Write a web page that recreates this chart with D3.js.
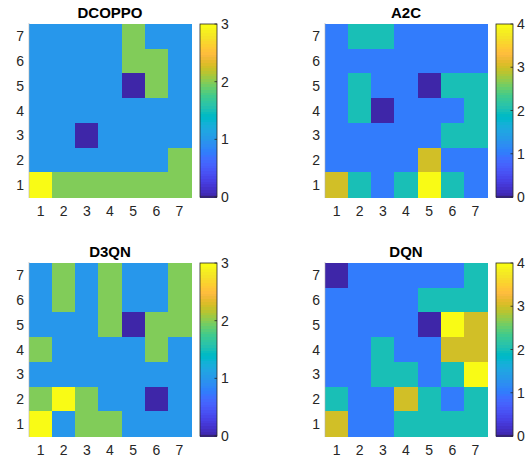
<!DOCTYPE html>
<html>
<head>
<meta charset="utf-8">
<script src="https://cdn.jsdelivr.net/npm/d3@7"></script>
<style>
  body { margin: 0; background: #fff; }
  svg { display: block; }
  text { font-family: "Liberation Sans", Arial, sans-serif; }
</style>
</head>
<body>
<svg id="chart" width="530" height="460"></svg>
<script>
// grid values, rows listed from y=7 (top) down to y=1 (bottom), columns x=1..7
var cells = [1, 2, 3, 4, 5, 6, 7];
var dcoppo = [
  [1, 1, 1, 1, 2, 1, 1],
  [1, 1, 1, 1, 2, 2, 1],
  [1, 1, 1, 1, 0, 2, 1],
  [1, 1, 1, 1, 1, 1, 1],
  [1, 1, 0, 1, 1, 1, 1],
  [1, 1, 1, 1, 1, 1, 2],
  [3, 2, 2, 2, 2, 2, 2]
];
var a2c = [
  [1, 2, 2, 1, 1, 1, 1],
  [1, 1, 1, 1, 1, 1, 1],
  [1, 2, 1, 1, 0, 2, 2],
  [1, 2, 0, 1, 1, 1, 2],
  [1, 1, 1, 1, 1, 2, 2],
  [1, 1, 1, 1, 3, 1, 1],
  [3, 2, 1, 2, 4, 2, 1]
];
var d3qn = [
  [1, 2, 1, 2, 1, 1, 2],
  [1, 2, 1, 2, 1, 1, 2],
  [1, 1, 1, 2, 0, 2, 2],
  [2, 1, 1, 1, 1, 2, 1],
  [1, 1, 1, 1, 1, 1, 1],
  [2, 3, 2, 1, 1, 0, 1],
  [3, 1, 2, 2, 1, 1, 1]
];
var dqn = [
  [0, 1, 1, 1, 1, 1, 2],
  [1, 1, 1, 1, 2, 2, 2],
  [1, 1, 1, 1, 0, 4, 3],
  [1, 1, 2, 1, 1, 3, 3],
  [1, 1, 2, 2, 1, 2, 4],
  [2, 1, 1, 3, 2, 1, 2],
  [3, 1, 1, 2, 2, 2, 2]
];
var titles = ["DCOPPO", "A2C", "D3QN", "DQN"];
var grids = [dcoppo, a2c, d3qn, dqn];

// parula(64)
var parula = [
[0.2422,0.1504,0.6603],[0.2504,0.1650,0.7076],[0.2578,0.1818,0.7511],[0.2647,0.1978,0.7952],
[0.2706,0.2147,0.8364],[0.2751,0.2342,0.8710],[0.2783,0.2559,0.8991],[0.2803,0.2782,0.9221],
[0.2813,0.3006,0.9414],[0.2810,0.3228,0.9579],[0.2795,0.3447,0.9717],[0.2760,0.3667,0.9829],
[0.2699,0.3892,0.9906],[0.2602,0.4123,0.9952],[0.2440,0.4358,0.9988],[0.2206,0.4603,0.9973],
[0.1963,0.4847,0.9892],[0.1834,0.5074,0.9798],[0.1786,0.5289,0.9682],[0.1764,0.5499,0.9520],
[0.1687,0.5703,0.9359],[0.1540,0.5902,0.9218],[0.1460,0.6091,0.9079],[0.1380,0.6276,0.8973],
[0.1248,0.6459,0.8883],[0.1113,0.6635,0.8763],[0.0952,0.6798,0.8598],[0.0689,0.6948,0.8394],
[0.0297,0.7082,0.8163],[0.0036,0.7203,0.7917],[0.0067,0.7312,0.7660],[0.0433,0.7411,0.7394],
[0.0964,0.7500,0.7120],[0.1408,0.7584,0.6842],[0.1717,0.7670,0.6554],[0.1938,0.7758,0.6251],
[0.2161,0.7843,0.5923],[0.2470,0.7918,0.5567],[0.2906,0.7973,0.5188],[0.3406,0.8008,0.4789],
[0.3909,0.8029,0.4354],[0.4456,0.8024,0.3909],[0.5044,0.7993,0.3480],[0.5616,0.7942,0.3045],
[0.6174,0.7876,0.2612],[0.6720,0.7793,0.2227],[0.7242,0.7698,0.1910],[0.7738,0.7598,0.1646],
[0.8203,0.7498,0.1535],[0.8634,0.7406,0.1596],[0.9035,0.7330,0.1774],[0.9393,0.7288,0.2100],
[0.9728,0.7298,0.2394],[0.9956,0.7434,0.2371],[0.9970,0.7659,0.2199],[0.9952,0.7893,0.2028],
[0.9892,0.8136,0.1885],[0.9786,0.8386,0.1766],[0.9676,0.8639,0.1643],[0.9610,0.8890,0.1537],
[0.9597,0.9135,0.1423],[0.9628,0.9373,0.1265],[0.9691,0.9606,0.1064],[0.9769,0.9839,0.0805]
].map(function(c) { return d3.rgb(c[0]*255, c[1]*255, c[2]*255).formatHex(); });

var svg = d3.select("#chart");
var pw = 162, ph = 173, cbGap = 9, cbW = 17;
var origins = [[29, 24], [325, 24], [29, 263], [325, 263]];
var ink = "#262626";

grids.forEach(function(grid, k) {
  var ox = origins[k][0], oy = origins[k][1];
  var flat = d3.merge(grid);
  var cmin = d3.min(flat), cmax = d3.max(flat);
  var color = d3.scaleQuantize().domain([cmin, cmax]).range(parula);

  var g = svg.append("g").attr("transform", "translate(" + ox + "," + oy + ")");
  var x = d3.scaleBand().domain(cells).range([0, pw]);
  var y = d3.scaleBand().domain(cells).range([ph, 0]);

  var pts = [];
  grid.forEach(function(row, r) {
    row.forEach(function(v, c) { pts.push({ x: c + 1, y: 7 - r, v: v }); });
  });

  g.selectAll("rect.cell").data(pts).enter().append("rect")
    .attr("class", "cell")
    .attr("shape-rendering", "crispEdges")
    .attr("x", function(d) { return x(d.x); })
    .attr("y", function(d) { return y(d.y); })
    .attr("width", x.bandwidth() + 1)
    .attr("height", y.bandwidth() + 1)
    .attr("fill", function(d) { return color(d.v); });

  // faint axis edges
  g.append("line").attr("x1", 0).attr("x2", 0).attr("y1", -1).attr("y2", ph + 1)
    .attr("stroke", "#b0b0b0").attr("stroke-width", 0.6);

  g.selectAll("text.xt").data(cells).enter().append("text")
    .attr("class", "xt")
    .attr("x", function(d) { return x(d) + x.bandwidth() / 2; })
    .attr("y", ph + 19)
    .attr("text-anchor", "middle")
    .attr("font-size", 14)
    .attr("fill", ink)
    .text(function(d) { return d; });

  g.selectAll("text.yt").data(cells).enter().append("text")
    .attr("class", "yt")
    .attr("x", -5)
    .attr("y", function(d) { return y(d) + y.bandwidth() / 2 + 5; })
    .attr("text-anchor", "end")
    .attr("font-size", 14)
    .attr("fill", ink)
    .text(function(d) { return d; });

  g.append("text")
    .attr("x", pw / 2)
    .attr("y", -6)
    .attr("text-anchor", "middle")
    .attr("font-size", 15)
    .attr("font-weight", "bold")
    .attr("fill", "#000")
    .text(titles[k]);

  // colorbar
  var cb = g.append("g").attr("transform", "translate(" + (pw + cbGap) + ",0)");
  var cy = d3.scaleLinear().domain([cmin, cmax]).range([ph, 0]);
  var step = (cmax - cmin) / parula.length;
  cb.selectAll("rect").data(parula).enter().append("rect")
    .attr("shape-rendering", "crispEdges")
    .attr("x", 0)
    .attr("width", cbW)
    .attr("y", function(d, i) { return cy(cmin + (i + 1) * step); })
    .attr("height", function() { return cy(cmin) - cy(cmin + step) + 1; })
    .attr("fill", function(d) { return d; });
  cb.append("rect").attr("width", cbW).attr("height", ph)
    .attr("fill", "none").attr("stroke", ink).attr("stroke-width", 0.8);
  var ticks = d3.range(cmin, cmax + 1);
  cb.selectAll("line.tk").data(ticks).enter().append("line")
    .attr("class", "tk")
    .attr("x1", cbW - 2.5).attr("x2", cbW)
    .attr("y1", function(d) { return cy(d); }).attr("y2", function(d) { return cy(d); })
    .attr("stroke", ink).attr("stroke-width", 0.8);
  cb.selectAll("text").data(ticks).enter().append("text")
    .attr("x", cbW + 4)
    .attr("y", function(d) { return cy(d) + 5; })
    .attr("font-size", 14)
    .attr("fill", ink)
    .text(function(d) { return d; });
});
</script>
</body>
</html>
